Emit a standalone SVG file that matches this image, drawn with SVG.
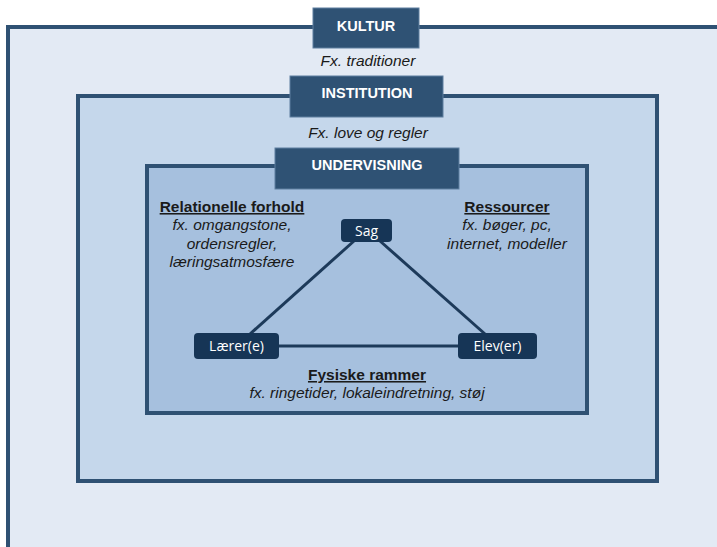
<svg xmlns="http://www.w3.org/2000/svg" width="717" height="547" viewBox="0 0 717 547">
<style>
.frame{stroke:#2f5173;stroke-width:4}
.hdr{fill:#2f5274;stroke:#5f7f9f;stroke-width:1}
.hdrt{font-family:"Liberation Sans",Arial,sans-serif;font-weight:bold;font-size:14.5px;fill:#ffffff;text-anchor:middle}
.it{font-family:"Liberation Sans",Arial,sans-serif;font-style:italic;font-size:15.5px;fill:#1a1a1a;text-anchor:middle}
.bu{font-family:"Liberation Sans",Arial,sans-serif;font-weight:bold;font-size:15.5px;fill:#1a1a1a;text-anchor:middle;text-decoration:underline}
.node{fill:#163556}
.nt{font-family:"Open Sans","Liberation Sans",sans-serif;font-size:14px;fill:#ffffff;text-anchor:middle}
.edge{stroke:#1d3a5a;stroke-width:3;fill:none}
</style>
<rect width="717" height="547" fill="#ffffff"/>
<g id="kultur">
<rect class="frame" x="8" y="27" width="720" height="540" fill="#e3eaf4"/>
<rect class="hdr" x="313" y="8" width="106" height="40"/>
<text class="hdrt" x="366" y="31">KULTUR</text>
<text class="it" x="368" y="66">Fx. traditioner</text>
</g>
<g id="institution">
<rect class="frame" x="78" y="96" width="579" height="385" fill="#c5d7eb"/>
<rect class="hdr" x="290" y="76" width="153" height="41"/>
<text class="hdrt" x="367" y="98">INSTITUTION</text>
<text class="it" x="368" y="138">Fx. love og regler</text>
</g>
<g id="undervisning">
<rect class="frame" x="147" y="166" width="440" height="247" fill="#a6c0de"/>
<rect class="hdr" x="275" y="148" width="184" height="41"/>
<text class="hdrt" x="367" y="170">UNDERVISNING</text>
</g>
<g id="relationelle">
<text class="bu" x="232" y="212">Relationelle forhold</text>
<text class="it" x="232" y="230">fx. omgangstone,</text>
<text class="it" x="232" y="249">ordensregler,</text>
<text class="it" x="232" y="267">læringsatmosfære</text>
</g>
<g id="ressourcer">
<text class="bu" x="507" y="212">Ressourcer</text>
<text class="it" x="507" y="230">fx. bøger, pc,</text>
<text class="it" x="507" y="249">internet, modeller</text>
</g>
<g id="fysiske">
<text class="bu" x="367" y="380">Fysiske rammer</text>
<text class="it" x="367" y="398">fx. ringetider, lokaleindretning, støj</text>
</g>
<g id="connectors">
<line class="edge" x1="354" y1="241" x2="250" y2="334"/>
<line class="edge" x1="380" y1="241" x2="485" y2="334"/>
<line class="edge" x1="278" y1="346" x2="458" y2="346"/>
</g>
<g id="sag">
<rect class="node" x="341" y="219" width="51" height="23" rx="4"/>
<text class="nt" x="366.5" y="236">Sag</text>
</g>
<g id="laerer">
<rect class="node" x="194" y="333" width="85" height="26" rx="4"/>
<text class="nt" x="236.5" y="351">Lærer(e)</text>
</g>
<g id="elev">
<rect class="node" x="458" y="333" width="79" height="26" rx="4"/>
<text class="nt" x="497.5" y="351">Elev(er)</text>
</g>
</svg>
